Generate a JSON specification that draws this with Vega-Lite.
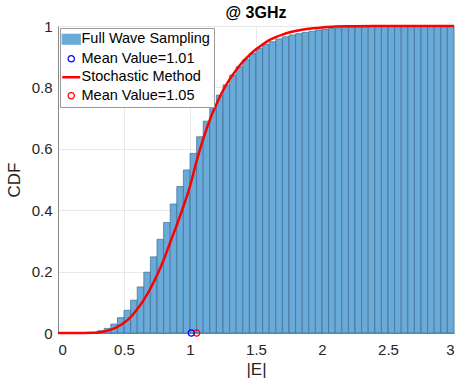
{
  "$schema": "https://vega.github.io/schema/vega-lite/v6.json",
  "autosize": "none",
  "width": 396,
  "height": 307,
  "padding": {"left": 58, "top": 26, "right": 4, "bottom": 50},
  "background": "white",
  "title": {"text": "@ 3GHz", "font": "Liberation Sans", "fontSize": 16, "fontWeight": "bold", "color": "#000000", "offset": -2, "anchor": "middle"},
  "config": {
    "font": "Liberation Sans",
    "view": {"stroke": "#8a8a8a", "strokeWidth": 1},
    "axis": {
      "labelFont": "Liberation Sans", "labelFontSize": 15, "labelColor": "#262626",
      "titleFont": "Liberation Sans", "titleFontSize": 17, "titleFontWeight": "normal", "titleColor": "#262626",
      "domainColor": "#8a8a8a", "tickColor": "#8a8a8a", "gridColor": "#e8e8e8", "gridOpacity": 1,
      "tickSize": 0
    },
    "legend": {
      "title": null, "orient": "top-left", "offset": 2,
      "labelFont": "Liberation Sans", "labelFontSize": 14.5, "labelColor": "#000000",
      "strokeColor": "#9a9a9a", "fillColor": "white", "padding": 4, "rowPadding": 3.5,
      "symbolSize": 100, "labelOffset": 3
    }
  },
  "datasets": {
    "bins": [
      {"x0": 0.30, "x1": 0.35, "cdf": 0.0075},
      {"x0": 0.35, "x1": 0.40, "cdf": 0.015},
      {"x0": 0.40, "x1": 0.45, "cdf": 0.029},
      {"x0": 0.45, "x1": 0.50, "cdf": 0.05},
      {"x0": 0.50, "x1": 0.55, "cdf": 0.074},
      {"x0": 0.55, "x1": 0.60, "cdf": 0.107},
      {"x0": 0.60, "x1": 0.65, "cdf": 0.15},
      {"x0": 0.65, "x1": 0.70, "cdf": 0.198},
      {"x0": 0.70, "x1": 0.75, "cdf": 0.248},
      {"x0": 0.75, "x1": 0.80, "cdf": 0.305},
      {"x0": 0.80, "x1": 0.85, "cdf": 0.36},
      {"x0": 0.85, "x1": 0.90, "cdf": 0.42},
      {"x0": 0.90, "x1": 0.95, "cdf": 0.477},
      {"x0": 0.95, "x1": 1.00, "cdf": 0.531},
      {"x0": 1.00, "x1": 1.05, "cdf": 0.585},
      {"x0": 1.05, "x1": 1.10, "cdf": 0.639},
      {"x0": 1.10, "x1": 1.15, "cdf": 0.69},
      {"x0": 1.15, "x1": 1.20, "cdf": 0.735},
      {"x0": 1.20, "x1": 1.25, "cdf": 0.775},
      {"x0": 1.25, "x1": 1.30, "cdf": 0.808},
      {"x0": 1.30, "x1": 1.35, "cdf": 0.84},
      {"x0": 1.35, "x1": 1.40, "cdf": 0.867},
      {"x0": 1.40, "x1": 1.45, "cdf": 0.891},
      {"x0": 1.45, "x1": 1.50, "cdf": 0.911},
      {"x0": 1.50, "x1": 1.55, "cdf": 0.927},
      {"x0": 1.55, "x1": 1.60, "cdf": 0.94},
      {"x0": 1.60, "x1": 1.65, "cdf": 0.949},
      {"x0": 1.65, "x1": 1.70, "cdf": 0.958},
      {"x0": 1.70, "x1": 1.75, "cdf": 0.965},
      {"x0": 1.75, "x1": 1.80, "cdf": 0.971},
      {"x0": 1.80, "x1": 1.85, "cdf": 0.975},
      {"x0": 1.85, "x1": 1.90, "cdf": 0.979},
      {"x0": 1.90, "x1": 1.95, "cdf": 0.983},
      {"x0": 1.95, "x1": 2.00, "cdf": 0.987},
      {"x0": 2.00, "x1": 2.05, "cdf": 0.99},
      {"x0": 2.05, "x1": 2.10, "cdf": 0.992},
      {"x0": 2.10, "x1": 2.15, "cdf": 0.994},
      {"x0": 2.15, "x1": 2.20, "cdf": 0.996},
      {"x0": 2.20, "x1": 2.25, "cdf": 0.997},
      {"x0": 2.25, "x1": 2.30, "cdf": 0.998},
      {"x0": 2.30, "x1": 2.35, "cdf": 0.999},
      {"x0": 2.35, "x1": 2.40, "cdf": 0.999},
      {"x0": 2.40, "x1": 2.45, "cdf": 1.0},
      {"x0": 2.45, "x1": 2.50, "cdf": 1.0},
      {"x0": 2.50, "x1": 2.55, "cdf": 1.0},
      {"x0": 2.55, "x1": 2.60, "cdf": 1.0},
      {"x0": 2.60, "x1": 2.65, "cdf": 1.0},
      {"x0": 2.65, "x1": 2.70, "cdf": 1.0},
      {"x0": 2.70, "x1": 2.75, "cdf": 1.0},
      {"x0": 2.75, "x1": 2.80, "cdf": 1.0},
      {"x0": 2.80, "x1": 2.85, "cdf": 1.0},
      {"x0": 2.85, "x1": 2.90, "cdf": 1.0},
      {"x0": 2.90, "x1": 2.95, "cdf": 1.0},
      {"x0": 2.95, "x1": 3.00, "cdf": 1.0}
    ],
    "curve": [
      {"e": 0.0, "p": 0.0},
      {"e": 0.2, "p": 0.0},
      {"e": 0.25, "p": 0.0005},
      {"e": 0.3, "p": 0.002},
      {"e": 0.35, "p": 0.005},
      {"e": 0.4, "p": 0.011},
      {"e": 0.45, "p": 0.02},
      {"e": 0.5, "p": 0.033},
      {"e": 0.55, "p": 0.052},
      {"e": 0.6, "p": 0.077},
      {"e": 0.65, "p": 0.108},
      {"e": 0.7, "p": 0.145},
      {"e": 0.75, "p": 0.188},
      {"e": 0.8, "p": 0.238},
      {"e": 0.85, "p": 0.295},
      {"e": 0.9, "p": 0.352},
      {"e": 0.95, "p": 0.412},
      {"e": 1.0, "p": 0.478},
      {"e": 1.05, "p": 0.56},
      {"e": 1.1, "p": 0.632},
      {"e": 1.15, "p": 0.694},
      {"e": 1.2, "p": 0.745},
      {"e": 1.25, "p": 0.79},
      {"e": 1.3, "p": 0.826},
      {"e": 1.35, "p": 0.857},
      {"e": 1.4, "p": 0.883},
      {"e": 1.45, "p": 0.905},
      {"e": 1.5, "p": 0.924},
      {"e": 1.55, "p": 0.94},
      {"e": 1.6, "p": 0.954},
      {"e": 1.65, "p": 0.964},
      {"e": 1.7, "p": 0.972},
      {"e": 1.75, "p": 0.979},
      {"e": 1.8, "p": 0.984},
      {"e": 1.9, "p": 0.991},
      {"e": 2.0, "p": 0.995},
      {"e": 2.1, "p": 0.998},
      {"e": 2.2, "p": 0.999},
      {"e": 2.4, "p": 1.0},
      {"e": 3.0, "p": 1.0}
    ],
    "means": [
      {"series": "Mean Value=1.01", "mean": 1.01, "p": 0},
      {"series": "Mean Value=1.05", "mean": 1.05, "p": 0}
    ]
  },
  "layer": [
    {
      "data": {"name": "bins"},
      "mark": {"type": "rect", "stroke": "#3c6e93", "strokeWidth": 0.7},
      "encoding": {
        "x": {"field": "x0", "type": "quantitative", "scale": {"domain": [0, 3], "nice": false}, "axis": {"title": "|E|", "values": [0, 0.5, 1, 1.5, 2, 2.5, 3], "format": "~g", "labelPadding": 9, "titlePadding": 4, "grid": true}},
        "x2": {"field": "x1"},
        "y": {"field": "cdf", "type": "quantitative", "scale": {"domain": [0, 1], "nice": false}, "axis": {"title": "CDF", "values": [0, 0.2, 0.4, 0.6, 0.8, 1], "format": "~g", "labelPadding": 6, "titlePadding": 8, "grid": true}},
        "y2": {"datum": 0},
        "color": {"datum": "Full Wave Sampling", "type": "nominal",
          "scale": {"domain": ["Full Wave Sampling", "Mean Value=1.01", "Stochastic Method", "Mean Value=1.05"], "range": ["#69aad8", "#0000ff", "#ff0000", "#ff0000"]},
          "legend": {
            "title": null,
            "encode": {
              "symbols": {
                "update": {
                  "shape": {"signal": "datum.value === 'Full Wave Sampling' ? 'M-1,-0.55H1V0.55H-1Z' : (datum.value === 'Stochastic Method' ? 'M-1,0H1' : 'circle')"},
                  "size": {"signal": "datum.value === 'Full Wave Sampling' || datum.value === 'Stochastic Method' ? 324 : 40"},
                  "fill": {"signal": "datum.value === 'Full Wave Sampling' ? '#69aad8' : '#ffffff'"},
                  "fillOpacity": {"signal": "datum.value === 'Full Wave Sampling' ? 1 : 0"},
                  "stroke": {"signal": "datum.value === 'Full Wave Sampling' ? '#69aad8' : (datum.value === 'Mean Value=1.01' ? '#0000ff' : '#ff0000')"},
                  "strokeWidth": {"signal": "datum.value === 'Stochastic Method' ? 2.5 : 1.2"}
                }
              }
            }
          }
        }
      }
    },
    {
      "data": {"name": "curve"},
      "mark": {"type": "line", "strokeWidth": 2.5, "interpolate": "monotone"},
      "encoding": {
        "x": {"field": "e", "type": "quantitative"},
        "y": {"field": "p", "type": "quantitative"},
        "color": {"datum": "Stochastic Method", "type": "nominal",
          "legend": {
            "title": null,
            "encode": {
              "symbols": {
                "update": {
                  "shape": {"signal": "datum.value === 'Full Wave Sampling' ? 'M-1,-0.55H1V0.55H-1Z' : (datum.value === 'Stochastic Method' ? 'M-1,0H1' : 'circle')"},
                  "size": {"signal": "datum.value === 'Full Wave Sampling' || datum.value === 'Stochastic Method' ? 324 : 40"},
                  "fill": {"signal": "datum.value === 'Full Wave Sampling' ? '#69aad8' : '#ffffff'"},
                  "fillOpacity": {"signal": "datum.value === 'Full Wave Sampling' ? 1 : 0"},
                  "stroke": {"signal": "datum.value === 'Full Wave Sampling' ? '#69aad8' : (datum.value === 'Mean Value=1.01' ? '#0000ff' : '#ff0000')"},
                  "strokeWidth": {"signal": "datum.value === 'Stochastic Method' ? 2.5 : 1.2"}
                }
              }
            }
          }
        }
      }
    },
    {
      "data": {"name": "means"},
      "mark": {"type": "point", "filled": false, "size": 40, "strokeWidth": 1.2, "opacity": 1},
      "encoding": {
        "x": {"field": "mean", "type": "quantitative"},
        "y": {"field": "p", "type": "quantitative"},
        "color": {"field": "series", "type": "nominal",
          "legend": {
            "title": null,
            "encode": {
              "symbols": {
                "update": {
                  "shape": {"signal": "datum.value === 'Full Wave Sampling' ? 'M-1,-0.55H1V0.55H-1Z' : (datum.value === 'Stochastic Method' ? 'M-1,0H1' : 'circle')"},
                  "size": {"signal": "datum.value === 'Full Wave Sampling' || datum.value === 'Stochastic Method' ? 324 : 40"},
                  "fill": {"signal": "datum.value === 'Full Wave Sampling' ? '#69aad8' : '#ffffff'"},
                  "fillOpacity": {"signal": "datum.value === 'Full Wave Sampling' ? 1 : 0"},
                  "stroke": {"signal": "datum.value === 'Full Wave Sampling' ? '#69aad8' : (datum.value === 'Mean Value=1.01' ? '#0000ff' : '#ff0000')"},
                  "strokeWidth": {"signal": "datum.value === 'Stochastic Method' ? 2.5 : 1.2"}
                }
              }
            }
          }
        }
      }
    }
  ]
}
